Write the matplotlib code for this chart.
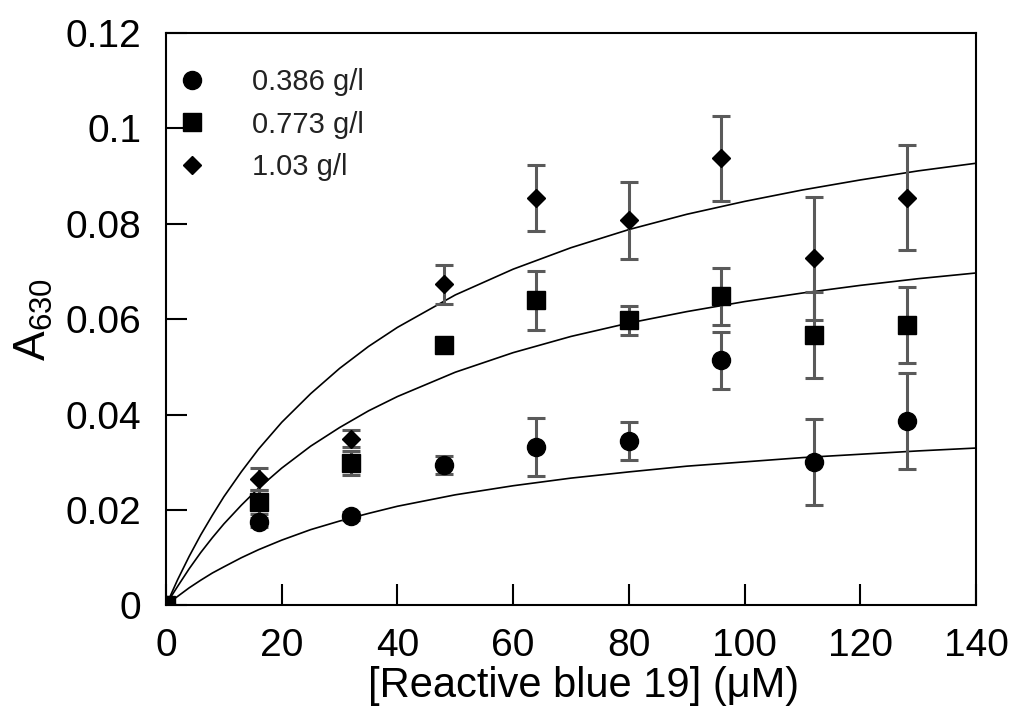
import matplotlib
matplotlib.use("Agg")
import matplotlib.pyplot as plt
from matplotlib.lines import Line2D

plt.rcParams['font.family'] = ['Liberation Sans', 'DejaVu Sans']
plt.rcParams['mathtext.default'] = 'regular'

# dye concentration (uM)
conc = [0, 16, 32, 48, 64, 80, 96, 112, 128]

# A630 readings and error for each enzyme loading
a_386 = [0, 0.0174, 0.0187, 0.0295, 0.0332, 0.0345, 0.0514, 0.0301, 0.0387]
e_386 = [0, 0.0010, 0.0008, 0.0019, 0.0060, 0.0040, 0.0060, 0.0090, 0.0100]
a_773 = [0, 0.0217, 0.0298, 0.0546, 0.0640, 0.0598, 0.0648, 0.0567, 0.0588]
e_773 = [0, 0.0025, 0.0025, 0.0010, 0.0062, 0.0030, 0.0060, 0.0090, 0.0079]
a_103 = [0, 0.0266, 0.0350, 0.0673, 0.0854, 0.0807, 0.0937, 0.0728, 0.0855]
e_103 = [0, 0.0023, 0.0018, 0.0040, 0.0069, 0.0080, 0.0090, 0.0129, 0.0110]

# fitted saturation curves, read along x
fit_x = [0, 1, 2, 4, 6, 8, 10, 13, 16, 20, 25, 30, 35, 40,
         50, 60, 70, 80, 90, 100, 110, 120, 130, 140]
fit_386 = [0, 0.0010, 0.0019, 0.0037, 0.0053, 0.0068, 0.0081, 0.0100, 0.0117,
           0.0137, 0.0159, 0.0177, 0.0193, 0.0208,
           0.0232, 0.0251, 0.0267, 0.0280, 0.0292, 0.0301, 0.0310, 0.0317, 0.0324, 0.0330]
fit_773 = [0, 0.0021, 0.0040, 0.0077, 0.0111, 0.0142, 0.0171, 0.0210, 0.0246,
           0.0288, 0.0334, 0.0373, 0.0408, 0.0438,
           0.0489, 0.0530, 0.0564, 0.0592, 0.0616, 0.0637, 0.0655, 0.0671, 0.0685, 0.0697]
fit_103 = [0, 0.0027, 0.0054, 0.0103, 0.0148, 0.0189, 0.0228, 0.0280, 0.0328,
           0.0384, 0.0444, 0.0497, 0.0543, 0.0583,
           0.0651, 0.0705, 0.0750, 0.0788, 0.0820, 0.0847, 0.0871, 0.0892, 0.0911, 0.0927]

labels = ['0.386 g/l', '0.773 g/l', '1.03 g/l']

fig = plt.figure(figsize=(10.13, 7.13), dpi=100)
ax = fig.add_axes([0.1639, 0.1508, 0.7996, 0.8029])

ebar = dict(ecolor='#5a5a5a', elinewidth=2.2, capsize=6.5, capthick=2.2,
            color='black', linestyle='none', zorder=3)

for fy in (fit_386, fit_773, fit_103):
    ax.plot(fit_x, fy, color='black', lw=1.2, zorder=2)

ax.errorbar(conc, a_386, yerr=e_386, marker='o', markersize=13, **ebar)
ax.errorbar(conc, a_773, yerr=e_773, marker='s', markersize=13.5, **ebar)
ax.errorbar(conc, a_103, yerr=e_103, marker='D', markersize=9, **ebar)

handles = [
    Line2D([], [], color='black', marker='o', markersize=13, linestyle='none'),
    Line2D([], [], color='black', marker='s', markersize=13.5, linestyle='none'),
    Line2D([], [], color='black', marker='D', markersize=9, linestyle='none'),
]
leg = ax.legend(handles, labels, loc='upper left', frameon=False,
                fontsize=21, handlelength=1.0, handletextpad=1.57,
                labelspacing=0.5, borderaxespad=0, borderpad=0,
                bbox_to_anchor=(0.0142, 0.939))
for t in leg.get_texts():
    t.set_color('#222222')

ax.set_xlim(0, 140)
ax.set_ylim(0, 0.12)
ax.set_xticks([0, 20, 40, 60, 80, 100, 120, 140])
ax.set_yticks([0, 0.02, 0.04, 0.06, 0.08, 0.1, 0.12])
ax.set_yticklabels(['0', '0.02', '0.04', '0.06', '0.08', '0.1', '0.12'])
ax.tick_params(direction='in', length=15, width=1.5, labelsize=28,
               top=False, right=False)
ax.tick_params(axis='y', pad=18)
ax.tick_params(axis='x', pad=16)
for s in ax.spines.values():
    s.set_linewidth(1.5)

ax.set_xlabel('[Reactive blue 19] (μM)', fontsize=30)
ax.xaxis.set_label_coords(0.515, -0.105)
ax.set_ylabel('A$_{630}$', fontsize=32)
ax.yaxis.set_label_coords(-0.137, 0.5)

fig.savefig('out.png', dpi=100)
